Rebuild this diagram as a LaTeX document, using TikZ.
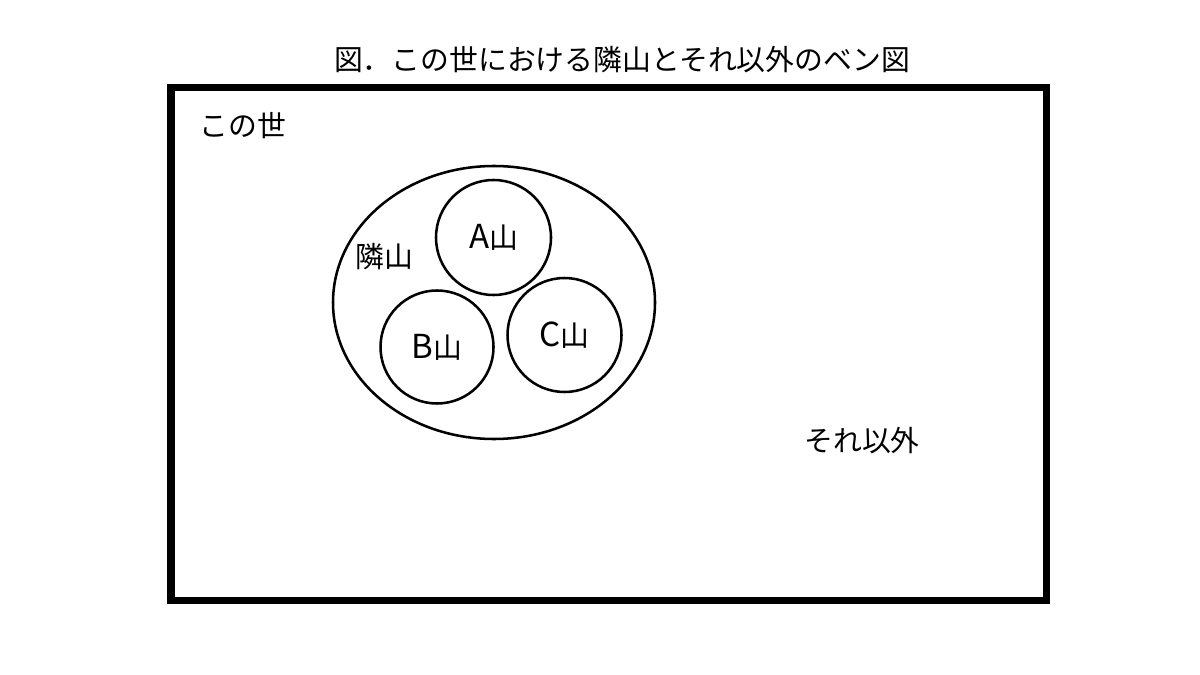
\documentclass[tikz,border=0pt]{standalone}
\usepackage{fontspec}
\setmainfont{Noto Sans CJK JP}
\usetikzlibrary{shapes.geometric}
\newcommand{\bigltr}[1]{{\fontsize{23.5pt}{24pt}\selectfont #1}}
\tikzset{
  lbl/.style={inner sep=0pt, font=\fontsize{20.5pt}{24pt}\selectfont, text=black},
  setline/.style={draw=black, line width=1.8pt},
  mtn/.style={setline, circle, minimum size=114*0.025cm, inner sep=0pt, font=\fontsize{20.5pt}{24pt}\selectfont},
}
\begin{document}
\begin{tikzpicture}[x=0.025cm, y=-0.025cm]
\useasboundingbox[fill=white] (0,0) rectangle (1200,675);
\node[draw=black, line width=5pt, minimum width=875*0.025cm, minimum height=513*0.025cm, inner sep=0pt] (world) at (608.5,344) {};
\node[lbl] (title) at (622,59.5) {図．この世における隣山とそれ以外のベン図};
\node[lbl] (worldlbl) at (243,125.5) {この世};
\node[setline, ellipse, minimum width=322*0.025cm, minimum height=273*0.025cm, inner sep=0pt] (near) at (494,302.5) {};
\node[lbl] (nearlbl) at (384,256.5) {隣山};
\node[mtn, minimum size=115*0.025cm] (a) at (493.5,237.5) {\bigltr{A}山};
\node[mtn, minimum size=113*0.025cm] (b) at (437,347) {\bigltr{B}山};
\node[mtn, minimum size=114*0.025cm] (c) at (564.5,335) {\bigltr{C}山};
\node[lbl] (other) at (862,441) {それ以外};
\end{tikzpicture}
\end{document}
